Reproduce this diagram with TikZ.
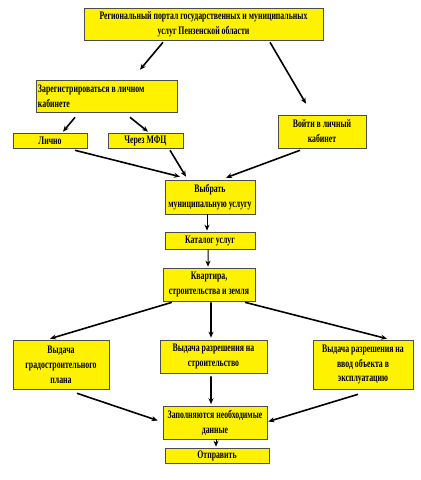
\documentclass[tikz,border=0pt]{standalone}
\usepackage{fontspec}
\setmainfont{Liberation Serif}[FakeStretch=0.68]
\usetikzlibrary{positioning,
                arrows.meta,
                shadows}

\begin{document}
\begin{tikzpicture}[x=1bp, y=-1bp,
    box/.style={draw=black!70, fill=yellow, line width=0.6bp, inner sep=1bp,
                font=\fontsize{11.5}{15}\selectfont\bfseries, align=center,
                drop shadow={shadow xshift=1.2bp, shadow yshift=-1.2bp, fill=black!45, opacity=1}},
    arr/.style={-{Stealth[length=6bp,width=5bp]}, line width=1.6bp}]
    \useasboundingbox (0,0) rectangle (420,480);

    % Portal
    \node[box, minimum width=239bp, minimum height=32bp] (portal) at (203.5,24)
        {Региональный портал государственных и муниципальных\\услуг Пензенской области};

    % Registrierung
    \node[box, minimum width=141bp, minimum height=32bp, text width=137bp, align=flush left] (reg) at (106.5,96)
        {Зарегистрироваться в личном\\кабинете};
    \node[box, minimum width=74bp, minimum height=15bp] (lichno) at (50,140.5) {Лично};
    \node[box, minimum width=75bp, minimum height=15bp] (mfc) at (145.5,140.5) {Через МФЦ};
    \node[box, minimum width=88bp, minimum height=33bp] (vojti) at (322,131.5)
        {Войти в личный\\кабинет};

    % Auswahl
    \node[box, minimum width=90bp, minimum height=34bp] (vybrat) at (210,197)
        {Выбрать\\муниципальную услугу};
    \node[box, minimum width=90bp, minimum height=17bp] (katalog) at (210,240.5) {Каталог услуг};
    \node[box, minimum width=92bp, minimum height=33bp] (kvartira) at (209,284.5)
        {Квартира,\\строительства и земля};

    % Dienste
    \node[box, minimum width=96bp, minimum height=49bp] (grad) at (61,364.5)
        {Выдача\\градостроительного\\плана};
    \node[box, minimum width=107bp, minimum height=33bp] (stroit) at (213.5,356.5)
        {Выдача разрешения на\\строительство};
    \node[box, minimum width=100bp, minimum height=49bp] (vvod) at (363,364.5)
        {Выдача разрешения на\\ввод объекта в\\эксплуатацию};

    % Abschluss
    \node[box, minimum width=104bp, minimum height=33bp] (zapoln) at (215,422.5)
        {Заполняются необходимые\\данные};
    \node[box, minimum width=104bp, minimum height=15bp] (otpr) at (217,455.5) {Отправить};

    % Pfeile
    \draw[arr] ([xshift=-40.5bp,yshift=-2bp]portal.south) -- ([xshift=33.5bp,yshift=10bp]reg.north);
    \draw[arr] ([xshift=66.5bp,yshift=-2bp]portal.south) -- ([xshift=-16bp,yshift=11bp]vojti.north);
    \draw[arr] ([xshift=-31.5bp,yshift=-5bp]reg.south) -- ([xshift=13bp,yshift=1bp]lichno.north);
    \draw[arr] ([xshift=23.5bp,yshift=-5bp]reg.south) -- ([xshift=2.5bp,yshift=1bp]mfc.north);
    \draw[arr] ([xshift=25bp,yshift=-2bp]lichno.south) -- ([xshift=-30bp,yshift=3bp]vybrat.north);
    \draw[arr] ([xshift=24.5bp,yshift=-2bp]mfc.south) -- ([xshift=-24bp,yshift=3bp]vybrat.north);
    \draw[arr] ([xshift=-22bp,yshift=-2bp]vojti.south) -- ([xshift=16bp,yshift=2bp]vybrat.north);
    \draw[arr, line width=1bp] ([xshift=-3bp]vybrat.south) -- ([xshift=-3bp,yshift=1bp]katalog.north);
    \draw[arr, line width=1bp] ([xshift=-2bp]katalog.south) -- ([xshift=-1bp,yshift=1bp]kvartira.north);
    \draw[arr] ([xshift=-37bp,yshift=-1bp]kvartira.south) -- ([xshift=-11bp,yshift=1bp]grad.north);
    \draw[arr] ([xshift=2bp,yshift=-1bp]kvartira.south) -- ([xshift=-2.5bp,yshift=2bp]stroit.north);
    \draw[arr] ([xshift=36bp,yshift=-1bp]kvartira.south) -- ([xshift=24bp,yshift=1bp]vvod.north);
    \draw[arr] ([xshift=16bp,yshift=-4bp]grad.south) -- ([xshift=-5bp,yshift=2bp]zapoln.west);
    \draw[arr] ([xshift=-2.5bp,yshift=-3bp]stroit.south) -- ([xshift=-4bp,yshift=1.5bp]zapoln.north);
    \draw[arr] ([xshift=-5bp,yshift=-5bp]vvod.south) -- ([xshift=1bp,yshift=1bp]zapoln.east);
    \draw[arr, line width=1bp] ([xshift=1bp]zapoln.south) -- ([xshift=-1bp,yshift=1bp]otpr.north);

\end{tikzpicture}
\end{document}
